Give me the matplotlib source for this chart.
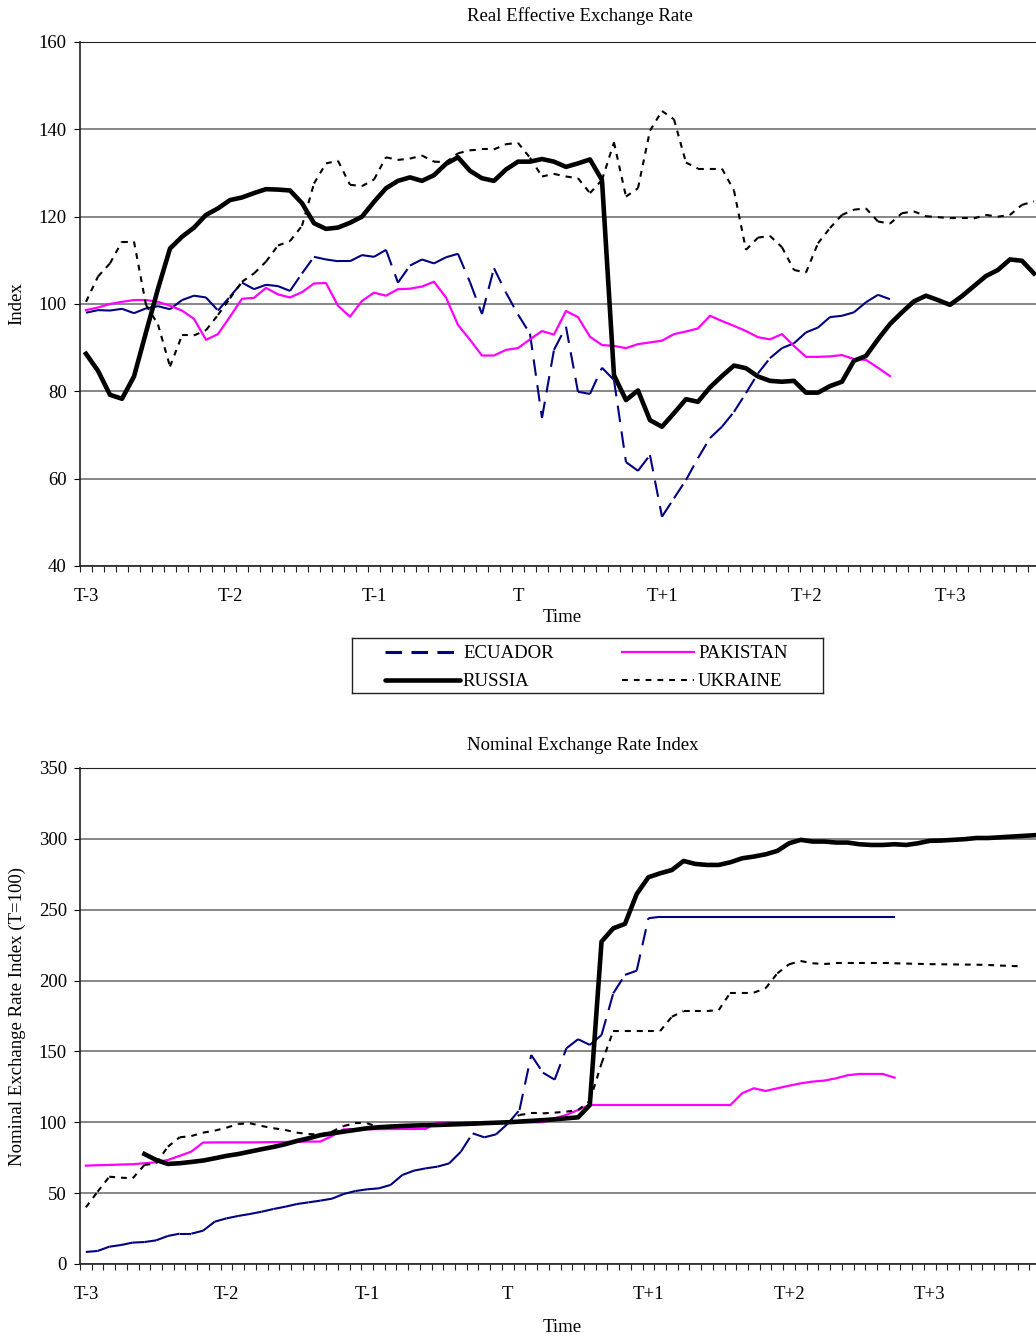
import numpy as np
import matplotlib.pyplot as plt
from matplotlib.collections import LineCollection

plt.rcParams['font.family'] = ['Liberation Serif', 'DejaVu Serif']
plt.rcParams['font.size'] = 13.5
plt.rcParams['lines.scale_dashes'] = False

# Real effective exchange rate, monthly from T-3
reer_ecuador = [98.0, 98.6, 98.5, 98.9, 97.9, 99.0, 99.5, 98.8, 100.9, 101.9, 101.5, 98.5,
                101.7, 104.9, 103.4, 104.4, 104.1, 103.0, 107.0, 110.8, 110.2, 109.8, 109.8, 111.2,
                110.8, 112.4, 104.9, 108.8, 110.2, 109.3, 110.7, 111.5, 105.0, 97.7, 108.2, 102.6,
                97.6, 93.2, 73.9, 89.5, 94.8, 79.9, 79.4, 85.4, 82.6, 63.8, 61.8, 65.4,
                51.3, 55.5, 59.7, 64.7, 69.3, 71.9, 75.3, 79.6, 84.1, 87.6, 89.9, 91.0,
                93.5, 94.6, 97.0, 97.3, 98.1, 100.4, 102.1, 101.1]
reer_pakistan = [98.6, 99.2, 100.0, 100.5, 100.9, 100.9, 100.5, 99.6, 98.5, 96.6, 91.8, 93.1,
                 97.1, 101.2, 101.4, 103.7, 102.2, 101.5, 102.7, 104.7, 104.8, 99.6, 97.1, 100.7,
                 102.6, 101.9, 103.4, 103.5, 104.0, 105.1, 101.5, 95.2, 91.8, 88.2, 88.2, 89.5,
                 89.9, 91.9, 93.8, 93.0, 98.4, 97.0, 92.5, 90.6, 90.4, 89.9, 90.8, 91.2,
                 91.6, 93.1, 93.7, 94.4, 97.3, 96.1, 95.0, 93.8, 92.4, 91.9, 93.1, 90.4,
                 87.9, 87.9, 88.0, 88.3, 87.4, 87.2, 85.4, 83.5]
reer_russia = [88.6, 84.7, 79.2, 78.3, 83.4, 93.5, 103.5, 112.7, 115.4, 117.5, 120.4, 121.9,
               123.8, 124.4, 125.4, 126.3, 126.2, 126.0, 123.1, 118.5, 117.2, 117.5, 118.6, 120.0,
               123.4, 126.5, 128.2, 129.0, 128.2, 129.5, 132.1, 133.6, 130.5, 128.8, 128.2, 130.8,
               132.6, 132.6, 133.2, 132.6, 131.4, 132.2, 133.1, 128.4, 83.7, 78.0, 80.2, 73.4,
               71.9, 75.0, 78.2, 77.6, 80.9, 83.5, 85.9, 85.3, 83.4, 82.4, 82.2, 82.4,
               79.7, 79.7, 81.2, 82.2, 87.0, 88.1, 91.9, 95.4, 98.1, 100.6, 101.9, 100.9,
               99.8, 101.8, 104.1, 106.4, 107.8, 110.2, 109.9, 107.0]
reer_ukraine = [100.5, 106.3, 109.3, 114.3, 114.3, 99.8, 95.3, 85.7, 92.8, 92.8, 94.0, 97.5,
                101.3, 105.1, 107.0, 109.7, 113.4, 114.4, 117.9, 127.6, 132.2, 132.8, 127.3, 127.0,
                128.5, 133.6, 133.0, 133.3, 134.0, 132.6, 132.5, 134.5, 135.2, 135.4, 135.4, 136.6,
                136.9, 133.5, 129.2, 129.8, 129.2, 128.8, 125.4, 128.4, 137.0, 124.6, 126.5, 139.7,
                144.2, 142.3, 132.4, 131.0, 131.0, 131.0, 126.0, 112.4, 115.2, 115.6, 113.0, 107.8,
                107.2, 113.9, 117.4, 120.4, 121.6, 121.9, 118.9, 118.4, 120.8, 121.2, 120.1, 119.9,
                119.6, 119.6, 119.6, 120.4, 120.0, 120.4, 122.7, 123.5]

# Nominal exchange rate index (T=100)
ner_ecuador = [8.5, 9.2, 12.2, 13.4, 15.1, 15.5, 16.7, 19.8, 21.4, 21.4, 23.5, 29.9,
               32.2, 33.9, 35.3, 36.9, 38.8, 40.4, 42.3, 43.5, 44.7, 46.1, 49.4, 51.5,
               52.7, 53.4, 55.8, 62.8, 65.9, 67.5, 68.7, 71.0, 79.3, 92.2, 89.4, 91.5,
               99.0, 108.7, 147.5, 135.0, 130.1, 152.2, 158.6, 154.6, 161.6, 191.0, 204.0, 207.0,
               244.0, 245.0, 245.0, 245.0, 245.0, 245.0, 245.0, 245.0, 245.0, 245.0, 245.0, 245.0,
               245.0, 245.0, 245.0, 245.0, 245.0, 245.0, 245.0, 245.0, 245.0, 245.0]
ner_pakistan = [69.4, 69.7, 69.9, 70.2, 70.4, 71.1, 71.8, 73.4, 76.3, 79.3, 85.7, 85.8,
                85.8, 85.8, 85.8, 85.9, 86.0, 86.1, 86.2, 86.4, 86.4, 90.3, 95.0, 95.1,
                95.1, 95.2, 95.2, 95.3, 95.3, 95.4, 99.8, 100.0, 100.0, 100.0, 100.0, 100.0,
                100.0, 100.0, 100.0, 100.0, 102.8, 105.2, 108.7, 112.2, 112.2, 112.2, 112.2, 112.2,
                112.2, 112.2, 112.2, 112.2, 112.2, 112.2, 112.2, 112.2, 120.5, 124.0, 122.1, 124.0,
                125.8, 127.5, 128.7, 129.4, 131.0, 133.2, 134.1, 134.1, 134.1, 131.5]
ner_russia = [np.nan, np.nan, np.nan, np.nan, np.nan, 77.6, 73.4, 70.6, 71.1, 72.0, 73.0, 74.6,
              76.3, 77.6, 79.3, 81.0, 82.6, 84.5, 86.8, 88.7, 90.9, 92.2, 93.4, 94.6,
              95.8, 96.5, 97.0, 97.4, 97.7, 97.9, 98.1, 98.4, 98.7, 99.0, 99.4, 99.7,
              100.0, 100.5, 101.0, 101.5, 102.1, 102.8, 103.5, 112.2, 227.5, 236.9, 240.0, 261.1,
              272.9, 275.7, 278.0, 284.4, 282.3, 281.6, 281.6, 283.5, 286.3, 287.5, 289.1, 291.5,
              296.9, 299.3, 298.1, 298.1, 297.4, 297.4, 296.2, 295.7, 295.7, 296.2, 295.7, 296.9,
              298.6, 298.8, 299.3, 299.8, 300.6, 300.6, 301.1, 301.6, 302.1, 302.6]
ner_ukraine = [40.0, 51.0, 61.6, 60.9, 60.5, 69.9, 71.0, 82.8, 89.4, 90.3, 92.7, 94.1,
               96.2, 98.8, 99.3, 97.4, 95.8, 94.6, 92.7, 91.7, 91.3, 93.4, 97.4, 99.3,
               99.3, 96.5, 97.0, 97.5, 98.0, 98.3, 98.6, 99.0, 99.3, 99.6, 99.8, 100.0,
               100.0, 105.2, 106.3, 106.3, 106.8, 107.5, 108.7, 115.0, 141.6, 164.4, 164.4, 164.4,
               164.4, 164.4, 174.5, 178.5, 178.5, 178.5, 179.2, 191.5, 191.5, 191.5, 194.6, 205.1,
               211.5, 213.8, 212.2, 211.7, 212.2, 212.2, 212.2, 212.2, 212.2, 212.2, 212.0, 211.8,
               211.6, 211.5, 211.4, 211.3, 211.2, 211.0, 210.6, 210.3, 210.0]

tick_labels = ['T-3', 'T-2', 'T-1', 'T', 'T+1', 'T+2', 'T+3']

W, H = 1036, 1338
NAVY = '#000080'
MAGENTA = '#FF00FF'
LONG_DASH = (0, (11.9, 6.8))
SHORT_DASH = (0, (4.2, 4.3))
FS = 13.5


def fx(px):
    return px / W


def fy(py):
    return 1 - py / H


def dashed_segments(ax, y, color, lw, style, z):
    # each segment restarts its dash pattern, short steps come out solid
    y = np.asarray(y, dtype=float)
    x = np.arange(len(y))
    segs = [[(x[i], y[i]), (x[i + 1], y[i + 1])]
            for i in range(len(y) - 1)
            if np.isfinite(y[i]) and np.isfinite(y[i + 1])]
    lc = LineCollection(segs, colors=color, linewidths=lw, linestyles=style,
                        capstyle='butt', zorder=z)
    ax.add_collection(lc)


def style_axes(ax, ymin, ymax, ystep, xmax):
    ax.set_xlim(-0.5, xmax)
    ax.set_ylim(ymin, ymax)
    ax.set_yticks(np.arange(ymin, ymax + 1, ystep))
    ax.set_xticks(np.arange(0, 73, 12))
    ax.set_xticklabels(tick_labels)
    ax.set_xticks(np.arange(-0.5, xmax, 1), minor=True)
    ax.tick_params(axis='x', which='major', length=0, pad=16, labelsize=FS)
    ax.tick_params(axis='x', which='minor', length=4.5, width=0.8, color='#222222')
    ax.tick_params(axis='y', length=4.5, width=0.8, pad=5, labelsize=FS)
    ax.yaxis.grid(True, color='#666666', lw=1.1)
    ax.set_axisbelow(True)
    ax.spines['right'].set_visible(False)
    ax.spines['top'].set_color('#222222')
    ax.spines['top'].set_linewidth(0.8)
    for s in ('left', 'bottom'):
        ax.spines[s].set_color('#222222')
        ax.spines[s].set_linewidth(1.2)


fig = plt.figure(figsize=(W / 100, H / 100), dpi=100)

# top panel: real effective exchange rate
ax1 = fig.add_axes([fx(80), fy(566), fx(1036 - 80), 524 / H])
style_axes(ax1, 40, 160, 20, 79.17)
dashed_segments(ax1, reer_ecuador, NAVY, 1.5, LONG_DASH, 3)
ax1.plot(reer_pakistan, color=MAGENTA, lw=1.6, zorder=3, solid_joinstyle='round')
ax1.plot(reer_russia, color='black', lw=3.3, zorder=4, solid_joinstyle='round')
dashed_segments(ax1, reer_ukraine, 'black', 1.5, SHORT_DASH, 5)

fig.text(fx(580), fy(16), 'Real Effective Exchange Rate', ha='center', va='center', fontsize=FS)
fig.text(fx(562), fy(618), 'Time', ha='center', va='center', fontsize=FS)
fig.text(fx(17), fy(304), 'Index', ha='center', va='center', rotation=90, fontsize=FS)

# legend box
leg = fig.add_axes([fx(352), fy(693), fx(823 - 352), 55 / H])
leg.set_xlim(352, 823)
leg.set_ylim(693, 638)
leg.set_xticks([])
leg.set_yticks([])
for s in leg.spines.values():
    s.set_color('#222222')
    s.set_linewidth(1.0)
leg.add_collection(LineCollection([[(385, 652), (455, 652)]], colors=NAVY, linewidths=2.2,
                                  linestyles=LONG_DASH, capstyle='butt'))
leg.plot([622, 694], [652, 652], color=MAGENTA, lw=1.6)
leg.plot([385, 460], [680, 680], color='black', lw=3.3, solid_capstyle='round')
leg.add_collection(LineCollection([[(622, 680), (694, 680)]], colors='black', linewidths=1.5,
                                  linestyles=SHORT_DASH, capstyle='butt'))
leg.text(463, 654, 'ECUADOR', ha='left', va='center', fontsize=FS)
leg.text(698, 654, 'PAKISTAN', ha='left', va='center', fontsize=FS)
leg.text(462, 682, 'RUSSIA', ha='left', va='center', fontsize=FS)
leg.text(698, 682, 'UKRAINE', ha='left', va='center', fontsize=FS)

# bottom panel: nominal exchange rate index
ax2 = fig.add_axes([fx(80), fy(1264), fx(1036 - 80), 496 / H])
style_axes(ax2, 0, 350, 50, 81.07)
dashed_segments(ax2, ner_ecuador, NAVY, 1.5, LONG_DASH, 3)
ax2.plot(ner_pakistan, color=MAGENTA, lw=1.6, zorder=3, solid_joinstyle='round')
ax2.plot(ner_russia, color='black', lw=3.3, zorder=4, solid_joinstyle='round')
dashed_segments(ax2, ner_ukraine, 'black', 1.5, SHORT_DASH, 5)

fig.text(fx(583), fy(746), 'Nominal Exchange Rate Index', ha='center', va='center', fontsize=FS)
fig.text(fx(562), fy(1327), 'Time', ha='center', va='center', fontsize=FS)
fig.text(fx(17), fy(1016), 'Nominal Exchange Rate Index (T=100)', ha='center', va='center',
         rotation=90, fontsize=FS)

fig.savefig('out.png', dpi=100, facecolor='white')
